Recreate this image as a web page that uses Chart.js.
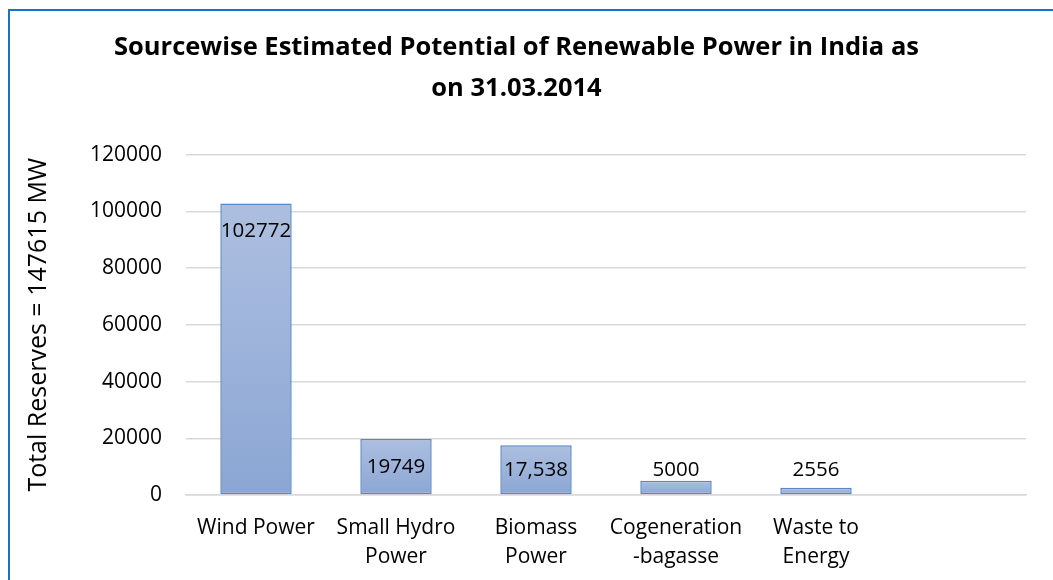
<!DOCTYPE html>
<html>
<head>
<meta charset="utf-8">
<script src="https://cdn.jsdelivr.net/npm/chart.js@4.4.1/dist/chart.umd.min.js"></script>
<style>
  html, body { margin: 0; padding: 0; background: #ffffff; }
  #wrap { position: relative; width: 1053px; height: 580px; overflow: hidden; }
  #frame { position: absolute; left: 8px; top: 9px; width: 1100px; height: 700px;
           border-left: 2px solid #1a72c4; border-top: 2px solid #1a72c4; pointer-events: none; }
  canvas { position: absolute; left: 0; top: 0; }
</style>
</head>
<body>
<div id="wrap">
  <canvas id="c" width="1053" height="580"></canvas>
  <div id="frame"></div>
</div>
<script>
const titleLines = ["Sourcewise Estimated Potential of Renewable Power in India as", "on 31.03.2014"];
const yAxisTitle = "Total Reserves = 147615 MW";
const categories = [["Wind Power"], ["Small Hydro", "Power"], ["Biomass", "Power"], ["Cogeneration", "-bagasse"], ["Waste to", "Energy"], [""]];
const values = [102772, 19749, 17538, 5000, 2556, null];
const valueLabels = ["102772", "19749", "17,538", "5000", "2556", ""];
const yTicks = [0, 20000, 40000, 60000, 80000, 100000, 120000];

const FONT = "'Open Sans'";

const labelPlugin = {
  id: 'barLabels',
  afterDatasetsDraw(chart) {
    const c = chart.ctx;
    const meta = chart.getDatasetMeta(0);
    const base = chart.scales.y.getPixelForValue(0);
    c.save();
    c.font = "20.5px " + FONT;
    c.fillStyle = "#000000";
    c.textAlign = "center";
    c.textBaseline = "middle";
    meta.data.forEach((bar, i) => {
      if (values[i] == null) return;
      const yc = Math.min(bar.y + 28, base - 25);
      c.fillText(valueLabels[i], bar.x, yc);
    });
    c.restore();
  }
};

function barGradient(ctx) {
  const chart = ctx.chart;
  if (!chart.chartArea || ctx.raw == null) return '#9db3da';
  const y = chart.scales.y;
  const top = y.getPixelForValue(ctx.raw);
  const bottom = y.getPixelForValue(0);
  const g = chart.ctx.createLinearGradient(0, top, 0, Math.max(bottom, top + 1));
  g.addColorStop(0, '#adbfe0');
  g.addColorStop(1, '#8ba6d4');
  return g;
}

new Chart(document.getElementById('c'), {
  type: 'bar',
  data: {
    labels: categories,
    datasets: [{
      data: values,
      backgroundColor: barGradient,
      borderColor: '#5787c4',
      borderWidth: 1.5,
      borderSkipped: false,
      categoryPercentage: 1.0,
      barPercentage: 0.51
    }]
  },
  options: {
    responsive: false,
    animation: false,
    devicePixelRatio: 1,
    layout: { padding: { left: 7, right: 27, top: 0, bottom: 0 } },
    plugins: {
      legend: { display: false },
      tooltip: { enabled: false },
      title: {
        display: true,
        text: titleLines,
        color: '#000000',
        font: { family: FONT, size: 25.5, weight: 'bold', lineHeight: 1.62 },
        padding: { top: 27, bottom: 45 }
      }
    },
    scales: {
      x: {
        grid: { display: false, drawTicks: false },
        border: { display: true, color: '#d9d9d9', width: 1.5 },
        afterFit(scale) { scale.height = 85; },
        ticks: {
          color: '#000000',
          font: { family: FONT, size: 21, lineHeight: 1.38 },
          padding: 19,
          maxRotation: 0,
          autoSkip: false
        }
      },
      y: {
        min: 0,
        max: 120000,
        afterBuildTicks(scale) { scale.ticks = yTicks.map(v => ({ value: v })); },
        afterFit(scale) { scale.width = 179; },
        grid: { color: '#d9d9d9', lineWidth: 1.5, drawTicks: false },
        border: { display: false },
        ticks: {
          color: '#000000',
          font: { family: FONT, size: 21 },
          padding: 24,
          callback: (v) => String(v)
        },
        title: {
          display: true,
          text: yAxisTitle,
          color: '#000000',
          font: { family: FONT, size: 25 },
          padding: { top: 17, bottom: 0 }
        }
      }
    }
  },
  plugins: [labelPlugin]
});
</script>
</body>
</html>
